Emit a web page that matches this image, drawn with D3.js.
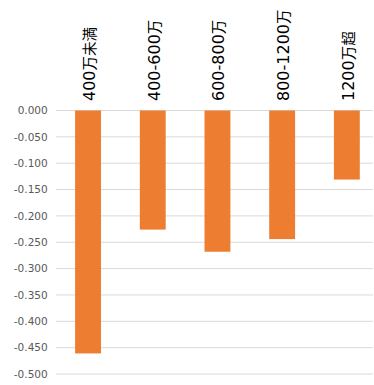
<!DOCTYPE html>
<html>
<head>
<meta charset="utf-8">
<script src="https://cdn.jsdelivr.net/npm/d3@7"></script>
<style>
  body { margin: 0; background: #fff; }
</style>
</head>
<body>
<script>
// income brackets and values
const categories = ["400万未満", "400-600万", "600-800万", "800-1200万", "1200万超"];
const values = [-0.461, -0.226, -0.268, -0.244, -0.131];
const tickValues = [0, -0.05, -0.1, -0.15, -0.2, -0.25, -0.3, -0.35, -0.4, -0.45, -0.5];

const W = 374, H = 385;

const svg = d3.select("body").append("svg")
    .attr("width", W)
    .attr("height", H);

const x = d3.scaleBand()
    .domain(categories)
    .range([55.7, 379.2])
    .paddingInner(0.6)
    .paddingOuter(0.3);

const y = d3.scaleLinear()
    .domain([0, -0.5])
    .range([110.5, 374]);

// gridlines
svg.append("g").selectAll("line")
    .data(tickValues)
    .join("line")
    .attr("x1", 56)
    .attr("x2", 373)
    .attr("y1", d => y(d))
    .attr("y2", d => y(d))
    .attr("stroke", "#d9d9d9")
    .attr("stroke-width", 1);

// y tick labels
svg.append("g").selectAll("text")
    .data(tickValues)
    .join("text")
    .attr("x", 47.7)
    .attr("y", d => y(d))
    .attr("dy", "0.35em")
    .attr("text-anchor", "end")
    .attr("font-family", "DejaVu Sans, sans-serif")
    .attr("font-size", "10.5px")
    .attr("fill", "#595959")
    .text(d => d3.format(".3f")(d).replace("−", "-"));

// bars
svg.append("g").selectAll("rect")
    .data(categories)
    .join("rect")
    .attr("x", d => x(d))
    .attr("width", x.bandwidth())
    .attr("y", y(0))
    .attr("height", (d, i) => y(values[i]) - y(0))
    .attr("fill", "#ED7D31");

// category labels, rotated; kanji drawn a bit smaller like the original
const labels = svg.append("g").selectAll("text")
    .data(categories)
    .join("text")
    .attr("transform", d => `translate(${x(d) + x.bandwidth() / 2 + 1},101) rotate(-90)`)
    .attr("dy", "0.36em")
    .attr("text-anchor", "start")
    .attr("font-family", "DejaVu Sans, sans-serif")
    .attr("font-size", "16px")
    .attr("fill", "#000");

labels.each(function (d) {
    const t = d3.select(this);
    d.match(/[0-9\-]+|[^0-9\-]+/g).forEach(run => {
        const cjk = !/^[0-9\-]+$/.test(run);
        t.append("tspan")
            .attr("font-family", cjk ? "Noto Sans CJK JP, sans-serif" : null)
            .attr("font-size", cjk ? "14.5px" : null)
            .text(run);
    });
});
</script>
</body>
</html>
